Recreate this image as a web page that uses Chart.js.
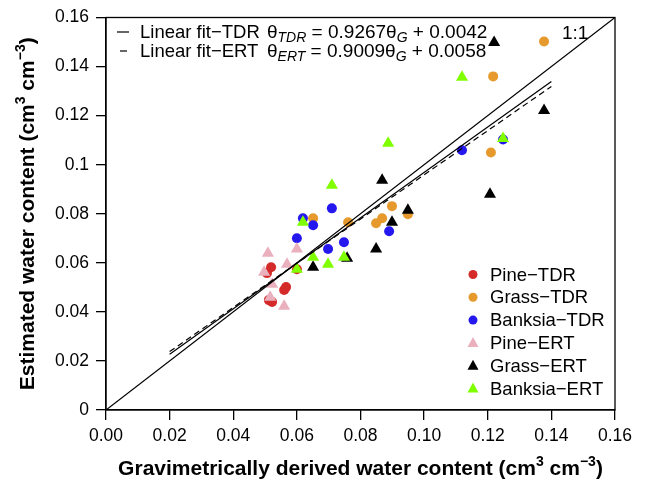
<!DOCTYPE html>
<html>
<head>
<meta charset="utf-8">
<script src="https://cdn.jsdelivr.net/npm/chart.js@4/dist/chart.umd.min.js"></script>
<style>
  html, body { margin: 0; padding: 0; background: #fff; }
</style>
</head>
<body>
<canvas id="chart" width="646" height="480"></canvas>
<script>
// Estimated vs gravimetric water content.

const xTicks = [0, 0.02, 0.04, 0.06, 0.08, 0.10, 0.12, 0.14, 0.16];
const xTickLabels = ['0.00', '0.02', '0.04', '0.06', '0.08', '0.10', '0.12', '0.14', '0.16'];
const yTicks = [0, 0.02, 0.04, 0.06, 0.08, 0.10, 0.12, 0.14, 0.16];
const yTickLabels = ['0', '0.02', '0.04', '0.06', '0.08', '0.1', '0.12', '0.14', '0.16'];

const seriesNames = ['Pine\u2212TDR', 'Grass\u2212TDR', 'Banksia\u2212TDR', 'Pine\u2212ERT', 'Grass\u2212ERT', 'Banksia\u2212ERT'];
const seriesColors = ['#d42a2a', '#e69a2e', '#2418ee', '#ebb0be', '#000000', '#80ff00'];
const seriesShapes = ['circle', 'circle', 'circle', 'triangle', 'triangle', 'triangle'];

const pineTDR = [
  { x: 0.0519, y: 0.0582 }, { x: 0.0506, y: 0.0558 }, { x: 0.0566, y: 0.0501 },
  { x: 0.0560, y: 0.0489 }, { x: 0.0512, y: 0.0448 }, { x: 0.0522, y: 0.0440 },
  { x: 0.0600, y: 0.0574 }
];
const grassTDR = [
  { x: 0.0651, y: 0.0782 }, { x: 0.0761, y: 0.0765 }, { x: 0.0899, y: 0.0831 },
  { x: 0.0868, y: 0.0782 }, { x: 0.0849, y: 0.0761 }, { x: 0.0949, y: 0.0798 },
  { x: 0.1377, y: 0.1502 }, { x: 0.1217, y: 0.1360 }, { x: 0.1210, y: 0.1050 }
];
const banksiaTDR = [
  { x: 0.0619, y: 0.0782 }, { x: 0.0651, y: 0.0753 }, { x: 0.0710, y: 0.0822 },
  { x: 0.0600, y: 0.0700 }, { x: 0.0748, y: 0.0684 }, { x: 0.0698, y: 0.0656 },
  { x: 0.0890, y: 0.0729 }, { x: 0.1119, y: 0.1059 }, { x: 0.1248, y: 0.1103 }
];
const pineERT = [
  { x: 0.0509, y: 0.0639 }, { x: 0.0600, y: 0.0656 }, { x: 0.0569, y: 0.0594 },
  { x: 0.0497, y: 0.0562 }, { x: 0.0522, y: 0.0513 }, { x: 0.0516, y: 0.0460 },
  { x: 0.0560, y: 0.0423 }
];
const grassERT = [
  { x: 0.0868, y: 0.0937 }, { x: 0.0949, y: 0.0814 }, { x: 0.0899, y: 0.0765 },
  { x: 0.0849, y: 0.0656 }, { x: 0.0758, y: 0.0619 }, { x: 0.0651, y: 0.0582 },
  { x: 0.1220, y: 0.1498 }, { x: 0.1377, y: 0.1221 }, { x: 0.1207, y: 0.0879 }
];
const banksiaERT = [
  { x: 0.0710, y: 0.0916 }, { x: 0.0619, y: 0.0765 }, { x: 0.0651, y: 0.0623 },
  { x: 0.0600, y: 0.0574 }, { x: 0.0698, y: 0.0594 }, { x: 0.0748, y: 0.0623 },
  { x: 0.0887, y: 0.1087 }, { x: 0.1119, y: 0.1356 }, { x: 0.1248, y: 0.1107 }
];

// line endpoints
const oneToOne = [{ x: 0, y: 0 }, { x: 0.16, y: 0.16 }];
const fitTDR = [{ x: 0.02, y: 0.0227 }, { x: 0.14, y: 0.1339 }];
const fitERT = [{ x: 0.02, y: 0.0238 }, { x: 0.14, y: 0.1319 }];

const FONT = '"Liberation Sans", Arial, sans-serif';
const pointData = [pineTDR, grassTDR, banksiaTDR, pineERT, grassERT, banksiaERT];

const datasets = [
  { type: 'line', data: oneToOne, borderColor: '#000', borderWidth: 1.2, pointRadius: 0, order: 0 },
  { type: 'line', data: fitTDR, borderColor: '#000', borderWidth: 1.2, pointRadius: 0, order: 0 },
  { type: 'line', data: fitERT, borderColor: '#000', borderWidth: 1.2, borderDash: [6, 4], pointRadius: 0, order: 0 }
];
pointData.forEach((d, i) => {
  datasets.push({
    label: seriesNames[i],
    data: d,
    pointStyle: seriesShapes[i],
    pointRadius: seriesShapes[i] === 'circle' ? 5 : 7,
    backgroundColor: seriesColors[i],
    borderColor: seriesColors[i],
    borderWidth: 0,
    order: 6 - i   // ERT on top of TDR, like the original draw order
  });
});

// draw a run of text pieces one after another
function drawRuns(ctx, x, y, runs) {
  for (const r of runs) {
    ctx.font = r.font;
    ctx.fillText(r.t, x, y + (r.dy || 0));
    x += ctx.measureText(r.t).width;
  }
  return x;
}
function runsWidth(ctx, runs) {
  let w = 0;
  for (const r of runs) { ctx.font = r.font; w += ctx.measureText(r.t).width; }
  return w;
}

const extras = {
  id: 'extras',
  afterDraw(chart) {
    const ctx = chart.ctx;
    const a = chart.chartArea;
    ctx.save();
    ctx.fillStyle = '#000';
    ctx.strokeStyle = '#000';

    // plot box
    ctx.lineWidth = 1.3;
    ctx.strokeRect(a.left, a.top, a.right - a.left, a.bottom - a.top);

    // top-left fit legend
    const lab = '18.5px ' + FONT;
    const reg = '19px ' + FONT;
    const sub = 'italic 14px ' + FONT;
    ctx.textBaseline = 'alphabetic';
    ctx.textAlign = 'left';
    ctx.lineWidth = 1.2;
    ctx.beginPath(); ctx.moveTo(117, 32); ctx.lineTo(129, 32); ctx.stroke();
    ctx.beginPath(); ctx.moveTo(120, 51); ctx.lineTo(127, 51); ctx.stroke();
    ctx.font = lab;
    ctx.fillText('Linear fit\u2212TDR', 140, 38);
    ctx.fillText('Linear fit\u2212ERT', 140, 57);
    drawRuns(ctx, 267, 38, [
      { t: '\u03b8', font: reg }, { t: 'TDR', font: sub, dy: 4 },
      { t: ' = 0.9267\u03b8', font: reg }, { t: 'G', font: sub, dy: 4 }, { t: ' + 0.0042', font: reg }
    ]);
    drawRuns(ctx, 267, 57, [
      { t: '\u03b8', font: reg }, { t: 'ERT', font: sub, dy: 4 },
      { t: ' = 0.9009\u03b8', font: reg }, { t: 'G', font: sub, dy: 4 }, { t: ' + 0.0058', font: reg }
    ]);
    ctx.font = reg;
    ctx.fillText('1:1', 562, 39);

    // bottom-right point legend
    const leg = '18.5px ' + FONT;
    ctx.textBaseline = 'middle';
    seriesNames.forEach((name, i) => {
      const y = 274.5 + i * 22.8;
      ctx.fillStyle = seriesColors[i];
      if (seriesShapes[i] === 'circle') {
        ctx.beginPath(); ctx.arc(473, y, 4.5, 0, Math.PI * 2); ctx.fill();
      } else {
        ctx.beginPath();
        ctx.moveTo(473, y - 6); ctx.lineTo(478.5, y + 4); ctx.lineTo(467.5, y + 4);
        ctx.closePath(); ctx.fill();
      }
      ctx.fillStyle = '#000';
      ctx.font = leg;
      ctx.fillText(name, 490, y + 1);
    });

    // axis titles with superscripts
    const bold = 'bold 21px ' + FONT;
    const sup = 'bold 14px ' + FONT;
    ctx.textBaseline = 'alphabetic';
    const xRuns = [
      { t: 'Gravimetrically derived water content (cm', font: bold },
      { t: '3', font: sup, dy: -9 }, { t: ' cm', font: bold },
      { t: '\u22123', font: sup, dy: -9 }, { t: ')', font: bold }
    ];
    const xw = runsWidth(ctx, xRuns);
    drawRuns(ctx, (a.left + a.right) / 2 - xw / 2, 475, xRuns);

    const yRuns = [
      { t: 'Estimated water content (cm', font: bold },
      { t: '3', font: sup, dy: -9 }, { t: ' cm', font: bold },
      { t: '\u22123', font: sup, dy: -9 }, { t: ')', font: bold }
    ];
    const yw = runsWidth(ctx, yRuns);
    ctx.translate(34, (a.top + a.bottom) / 2);
    ctx.rotate(-Math.PI / 2);
    drawRuns(ctx, -yw / 2, 0, yRuns);
    ctx.restore();
  }
};

new Chart(document.getElementById('chart'), {
  type: 'scatter',
  data: { datasets },
  options: {
    responsive: false,
    animation: false,
    layout: { padding: { left: 0, right: 31, top: 17, bottom: 0 } },
    plugins: { legend: { display: false }, tooltip: { enabled: false } },
    scales: {
      x: {
        type: 'linear', min: 0, max: 0.16,
        afterBuildTicks: (s) => { s.ticks = xTicks.map((v) => ({ value: v })); },
        afterFit: (s) => { s.height = 70; },
        ticks: {
          callback: (v, i) => xTickLabels[i],
          font: { family: FONT, size: 17.5 }, color: '#000', padding: 6, maxRotation: 0
        },
        grid: { drawOnChartArea: false, tickLength: 10, color: '#000', lineWidth: 1.3 },
        border: { color: '#000', width: 1.3 }
      },
      y: {
        type: 'linear', min: 0, max: 0.16,
        afterBuildTicks: (s) => { s.ticks = yTicks.map((v) => ({ value: v })); },
        afterFit: (s) => { s.width = 106; },
        ticks: {
          callback: (v, i) => yTickLabels[i],
          font: { family: FONT, size: 17.5 }, color: '#000', padding: 7
        },
        grid: { drawOnChartArea: false, tickLength: 10, color: '#000', lineWidth: 1.3 },
        border: { color: '#000', width: 1.3 }
      }
    }
  },
  plugins: [extras]
});
</script>
</body>
</html>
